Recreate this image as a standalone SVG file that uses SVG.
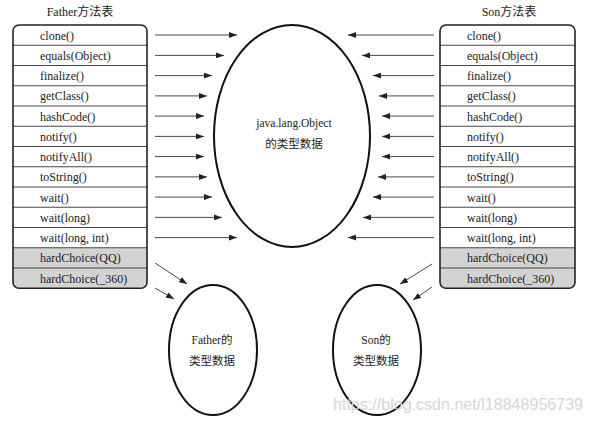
<svg xmlns="http://www.w3.org/2000/svg" width="590" height="422" viewBox="0 0 590 422">
<style>
.t{font-family:"Liberation Serif","Noto Sans CJK SC",serif;font-size:12px;fill:#222}
.h{font-family:"Liberation Serif","Noto Sans CJK SC",serif;font-size:12px;fill:#222;text-anchor:middle}
.c{font-family:"Liberation Serif","Noto Sans CJK SC",serif;font-size:11.5px;fill:#222;text-anchor:middle}
.ol{fill:none;stroke:#222;stroke-width:1.6}
.rl{stroke:#333;stroke-width:0.9}
.ar{stroke:#333;stroke-width:0.9;fill:none;marker-end:url(#ah)}
.el{fill:none;stroke:#111;stroke-width:2}
.g{fill:#d3d3d3}
</style>
<defs>
<marker id="ah" markerUnits="userSpaceOnUse" markerWidth="9" markerHeight="6" refX="8" refY="3" orient="auto">
<path d="M0,0 L8,3 L0,6 z" fill="#222"/>
</marker>
<clipPath id="cl"><rect x="13" y="25" width="134" height="263.25" rx="6"/></clipPath>
<clipPath id="cr"><rect x="440" y="25" width="135" height="263.25" rx="6"/></clipPath>
</defs>
<g id="father-table">
<text class="h" x="80" y="16">Father方法表</text>
<g clip-path="url(#cl)">
<rect class="g" x="13" y="247.75" width="134" height="41"/>
</g>
<g class="rl">
<line x1="13" y1="45.25" x2="147" y2="45.25"/>
<line x1="13" y1="65.5" x2="147" y2="65.5"/>
<line x1="13" y1="85.75" x2="147" y2="85.75"/>
<line x1="13" y1="106" x2="147" y2="106"/>
<line x1="13" y1="126.25" x2="147" y2="126.25"/>
<line x1="13" y1="146.5" x2="147" y2="146.5"/>
<line x1="13" y1="166.75" x2="147" y2="166.75"/>
<line x1="13" y1="187" x2="147" y2="187"/>
<line x1="13" y1="207.25" x2="147" y2="207.25"/>
<line x1="13" y1="227.5" x2="147" y2="227.5"/>
<line x1="13" y1="247.75" x2="147" y2="247.75"/>
<line x1="13" y1="268" x2="147" y2="268"/>
</g>
<rect class="ol" x="13" y="25" width="134" height="263.25" rx="6"/>
<text class="t" x="40" y="39.5">clone()</text>
<text class="t" x="40" y="59.5">equals(Object)</text>
<text class="t" x="40" y="80">finalize()</text>
<text class="t" x="40" y="100">getClass()</text>
<text class="t" x="40" y="120.5">hashCode()</text>
<text class="t" x="40" y="140.5">notify()</text>
<text class="t" x="40" y="161">notifyAll()</text>
<text class="t" x="40" y="181">toString()</text>
<text class="t" x="40" y="201.5">wait()</text>
<text class="t" x="40" y="221.5">wait(long)</text>
<text class="t" x="40" y="242">wait(long, int)</text>
<text class="t" x="40" y="262">hardChoice(QQ)</text>
<text class="t" x="40" y="282.5">hardChoice(_360)</text>
</g>
<g id="son-table">
<text class="h" x="509" y="16">Son方法表</text>
<g clip-path="url(#cr)">
<rect class="g" x="440" y="247.75" width="135" height="41"/>
</g>
<g class="rl">
<line x1="440" y1="45.25" x2="575" y2="45.25"/>
<line x1="440" y1="65.5" x2="575" y2="65.5"/>
<line x1="440" y1="85.75" x2="575" y2="85.75"/>
<line x1="440" y1="106" x2="575" y2="106"/>
<line x1="440" y1="126.25" x2="575" y2="126.25"/>
<line x1="440" y1="146.5" x2="575" y2="146.5"/>
<line x1="440" y1="166.75" x2="575" y2="166.75"/>
<line x1="440" y1="187" x2="575" y2="187"/>
<line x1="440" y1="207.25" x2="575" y2="207.25"/>
<line x1="440" y1="227.5" x2="575" y2="227.5"/>
<line x1="440" y1="247.75" x2="575" y2="247.75"/>
<line x1="440" y1="268" x2="575" y2="268"/>
</g>
<rect class="ol" x="440" y="25" width="135" height="263.25" rx="6"/>
<text class="t" x="467" y="39.5">clone()</text>
<text class="t" x="467" y="59.5">equals(Object)</text>
<text class="t" x="467" y="80">finalize()</text>
<text class="t" x="467" y="100">getClass()</text>
<text class="t" x="467" y="120.5">hashCode()</text>
<text class="t" x="467" y="140.5">notify()</text>
<text class="t" x="467" y="161">notifyAll()</text>
<text class="t" x="467" y="181">toString()</text>
<text class="t" x="467" y="201.5">wait()</text>
<text class="t" x="467" y="221.5">wait(long)</text>
<text class="t" x="467" y="242">wait(long, int)</text>
<text class="t" x="467" y="262">hardChoice(QQ)</text>
<text class="t" x="467" y="282.5">hardChoice(_360)</text>
</g>
<g id="object-data">
<ellipse class="el" cx="292" cy="136" rx="78" ry="111"/>
<text class="c" x="294" y="127">java.lang.Object</text>
<text class="c" x="294" y="148">的类型数据</text>
</g>
<g id="father-data">
<ellipse class="el" cx="213" cy="350" rx="44" ry="65"/>
<text class="c" x="212" y="344">Father的</text>
<text class="c" x="212" y="365">类型数据</text>
</g>
<g id="son-data">
<ellipse class="el" cx="377" cy="350" rx="44" ry="65"/>
<text class="c" x="376" y="344">Son的</text>
<text class="c" x="376" y="365">类型数据</text>
</g>
<g id="connectors">
<line class="ar" x1="155" y1="35" x2="237" y2="35"/>
<line class="ar" x1="155" y1="55.4" x2="224" y2="55.4"/>
<line class="ar" x1="155" y1="75.6" x2="212" y2="75.6"/>
<line class="ar" x1="155" y1="95.9" x2="207" y2="95.9"/>
<line class="ar" x1="155" y1="116.1" x2="204" y2="116.1"/>
<line class="ar" x1="155" y1="136.4" x2="204" y2="136.4"/>
<line class="ar" x1="155" y1="156.6" x2="204" y2="156.6"/>
<line class="ar" x1="155" y1="176.9" x2="207" y2="176.9"/>
<line class="ar" x1="155" y1="197.1" x2="212" y2="197.1"/>
<line class="ar" x1="155" y1="217.4" x2="222" y2="217.4"/>
<line class="ar" x1="155" y1="237.6" x2="237" y2="237.6"/>
<line class="ar" x1="434" y1="35" x2="348" y2="35"/>
<line class="ar" x1="434" y1="55.4" x2="362" y2="55.4"/>
<line class="ar" x1="434" y1="75.6" x2="373" y2="75.6"/>
<line class="ar" x1="434" y1="95.9" x2="379" y2="95.9"/>
<line class="ar" x1="434" y1="116.1" x2="382" y2="116.1"/>
<line class="ar" x1="434" y1="136.4" x2="382" y2="136.4"/>
<line class="ar" x1="434" y1="156.6" x2="382" y2="156.6"/>
<line class="ar" x1="434" y1="176.9" x2="378" y2="176.9"/>
<line class="ar" x1="434" y1="197.1" x2="373" y2="197.1"/>
<line class="ar" x1="434" y1="217.4" x2="363" y2="217.4"/>
<line class="ar" x1="434" y1="237.6" x2="348" y2="237.6"/>
<line class="ar" x1="155" y1="263" x2="187" y2="284"/>
<line class="ar" x1="155" y1="288" x2="174" y2="299"/>
<line class="ar" x1="432" y1="264" x2="400" y2="284"/>
<line class="ar" x1="432" y1="287" x2="413" y2="300"/>
</g>
<text x="333" y="410" textLength="250" style="font-family:'Liberation Sans',sans-serif;font-size:16px;fill:#d6d6d6">https://blog.csdn.net/l18848956739</text>
</svg>
